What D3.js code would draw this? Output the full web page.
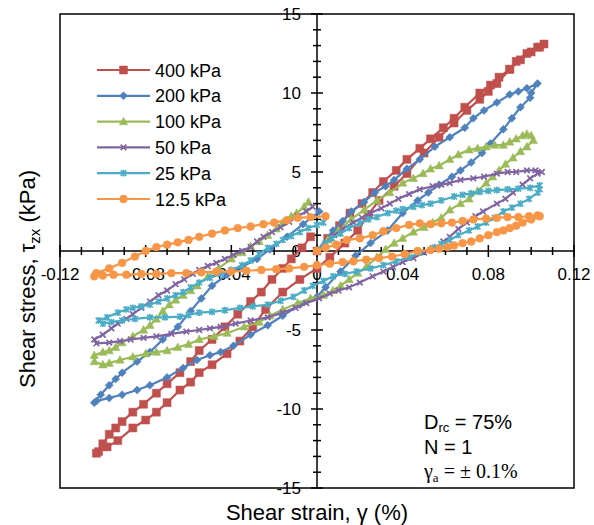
<!DOCTYPE html>
<html>
<head>
<meta charset="UTF-8">
<script src="https://d3js.org/d3.v7.min.js"></script>
<style>
  body { margin: 0; background: #fff; }
  text { font-family: "Liberation Sans", Arial, sans-serif; fill: #000; }
</style>
</head>
<body>
<svg id="canvas"></svg>
<script>

// ---- data: [shear strain (%), shear stress (kPa)] ----
s400 = [
  [0,0],[0.005,0.8],[0.0105,1.6],[0.0154,2.4],[0.021,3.0],[0.026,3.7],[0.031,4.4],[0.037,5.1],[0.042,5.8],[0.048,6.5],
  [0.053,7.1],[0.059,7.8],[0.064,8.4],[0.069,9.1],[0.076,10.0],[0.081,10.5],[0.085,11.0],[0.09,11.5],[0.093,12.0],[0.098,12.5],
  [0.103,12.9],[0.106,13.1],
  [0.104,12.9],[0.1,12.6],[0.095,12.1],[0.09,11.5],[0.084,10.6],[0.08,10.1],[0.076,9.6],[0.07,8.9],[0.064,8.1],[0.057,7.2],
  [0.05,6.2],[0.042,4.9],[0.036,4.1],[0.029,3.2],[0.024,2.3],[0.019,1.3],[0.013,0.5],[0.006,-0.4],[0,-1.1],[-0.008,-1.8],
  [-0.016,-2.6],[-0.024,-3.7],[-0.03,-4.8],[-0.036,-5.7],[-0.042,-6.5],[-0.049,-7.2],[-0.055,-7.7],[-0.059,-8.3],[-0.064,-8.8],[-0.07,-9.6],
  [-0.075,-10.2],[-0.08,-10.7],[-0.086,-11.2],[-0.093,-12.0],[-0.098,-12.4],[-0.102,-12.7],
  [-0.103,-12.8],[-0.1,-12.2],[-0.097,-11.6],[-0.094,-11.2],[-0.091,-10.8],[-0.086,-10.2],[-0.081,-9.7],[-0.075,-9.0],[-0.07,-8.4],[-0.064,-7.7],
  [-0.059,-7.0],[-0.055,-6.3],[-0.049,-5.6],[-0.043,-4.8],[-0.037,-4.0],[-0.031,-3.2],[-0.026,-2.6],[-0.021,-1.8],[-0.016,-1.1],[-0.012,-0.5],
  [-0.007,0.2],[-0.003,0.9]
];
s200 = [
  [0,0],[0.0075,1.3],[0.012,1.9],[0.016,2.5],[0.022,3.1],[0.027,3.7],[0.032,4.1],[0.036,4.5],[0.042,5.2],[0.048,5.8],
  [0.055,6.6],[0.062,7.2],[0.069,7.8],[0.073,8.4],[0.078,8.9],[0.084,9.4],[0.09,9.9],[0.094,10.1],[0.098,10.3],[0.103,10.6],
  [0.1,10.0],[0.0995,9.7],[0.095,9.1],[0.091,8.4],[0.087,7.7],[0.081,6.8],[0.077,6.2],[0.072,5.6],[0.067,5.1],[0.063,4.7],
  [0.057,4.2],[0.052,3.7],[0.047,3.2],[0.04,2.4],[0.033,1.3],[0.025,0.5],[0.018,-0.3],[0.011,-1.3],[0.004,-2.3],[0,-2.9],
  [-0.008,-3.4],[-0.016,-4.1],[-0.023,-4.7],[-0.031,-5.3],[-0.039,-6.0],[-0.045,-6.4],[-0.05,-6.6],[-0.056,-6.9],[-0.0625,-7.4],[-0.07,-8.0],
  [-0.078,-8.5],[-0.084,-8.8],[-0.091,-9.1],[-0.097,-9.3],[-0.103,-9.5],
  [-0.104,-9.6],[-0.101,-9.1],[-0.097,-8.5],[-0.094,-8.1],[-0.091,-7.7],[-0.084,-7.0],[-0.078,-6.4],[-0.072,-5.6],[-0.065,-4.8],[-0.059,-3.8],
  [-0.054,-3.0],[-0.049,-2.2],[-0.042,-1.5],[-0.035,-1.0],[-0.028,-0.5],[-0.022,0.1],[-0.014,0.9],[-0.0065,1.7],[0.001,2.5]
];
s100 = [
  [0,0],[0.005,0.7],[0.01,1.3],[0.016,2.0],[0.022,2.6],[0.028,3.2],[0.034,3.7],[0.04,4.3],[0.045,4.6],[0.0495,4.9],
  [0.053,5.2],[0.057,5.4],[0.062,5.8],[0.066,6.1],[0.071,6.4],[0.075,6.5],[0.079,6.6],[0.083,6.7],[0.087,6.7],[0.09,6.9],
  [0.093,7.1],[0.096,7.3],[0.098,7.4],[0.1,7.3],
  [0.101,7.0],[0.098,6.6],[0.095,6.3],[0.0915,5.9],[0.088,5.5],[0.085,5.1],[0.082,4.7],[0.079,4.3],[0.075,3.8],[0.071,3.3],
  [0.067,3.0],[0.062,2.6],[0.058,2.1],[0.054,1.8],[0.05,1.5],[0.045,1.2],[0.04,0.8],[0.036,0.5],[0.032,0.1],[0.028,-0.4],
  [0.023,-1.0],[0.019,-1.4],[0.015,-1.8],[0.011,-2.2],[0.0075,-2.5],[0.003,-2.8],[-0.003,-3.0],[-0.009,-3.3],[-0.016,-3.7],[-0.022,-4.1],
  [-0.027,-4.5],[-0.034,-4.8],[-0.042,-5.2],[-0.048,-5.4],[-0.055,-5.6],[-0.06,-5.9],[-0.065,-6.1],[-0.07,-6.3],[-0.075,-6.4],[-0.08,-6.5],
  [-0.086,-6.7],[-0.092,-6.9],[-0.097,-7.1],[-0.1,-7.2],[-0.104,-7.0],
  [-0.104,-6.6],[-0.1,-6.4],[-0.097,-6.3],[-0.094,-6.1],[-0.091,-5.8],[-0.086,-5.4],[-0.081,-5.0],[-0.078,-4.7],[-0.075,-4.3],[-0.072,-3.8],
  [-0.069,-3.4],[-0.066,-3.1],[-0.0625,-2.8],[-0.059,-2.5],[-0.056,-2.2],[-0.051,-1.6],[-0.046,-1.1],[-0.04,-0.5],[-0.035,-0.1],[-0.031,0.3],
  [-0.027,0.6],[-0.023,1.0],[-0.019,1.4],[-0.016,1.8],[-0.012,2.2],[-0.0095,2.4],[-0.006,2.8],[-0.004,3.1]
];
s50 = [
  [0,0],[0.004,0.5],[0.008,1.0],[0.012,1.4],[0.017,1.8],[0.021,2.1],[0.025,2.4],[0.03,2.7],[0.034,3.0],[0.038,3.3],
  [0.043,3.6],[0.048,3.9],[0.054,4.1],[0.058,4.2],[0.062,4.3],[0.067,4.5],[0.073,4.6],[0.078,4.7],[0.084,4.9],[0.089,5.0],
  [0.093,5.0],[0.098,5.1],[0.102,5.1],[0.105,5.0],
  [0.103,4.9],[0.0995,4.6],[0.096,4.2],[0.0915,3.7],[0.088,3.3],[0.084,3.0],[0.0775,2.5],[0.074,2.2],[0.07,1.8],[0.066,1.4],
  [0.062,0.9],[0.059,0.6],[0.056,0.25],[0.05,-0.1],[0.045,-0.45],[0.04,-0.7],[0.0355,-1.0],[0.031,-1.3],[0.026,-1.6],[0.02,-2.0],
  [0.015,-2.3],[0.01,-2.5],[0.006,-2.7],[0.001,-3.0],[-0.005,-3.3],[-0.01,-3.6],[-0.016,-3.9],[-0.023,-4.2],[-0.031,-4.4],[-0.038,-4.6],
  [-0.045,-4.8],[-0.05,-4.9],[-0.055,-5.0],[-0.061,-5.1],[-0.068,-5.25],[-0.075,-5.4],[-0.081,-5.5],[-0.087,-5.6],[-0.092,-5.7],[-0.097,-5.8],
  [-0.103,-5.85],
  [-0.104,-5.6],[-0.1,-5.3],[-0.096,-4.9],[-0.093,-4.6],[-0.089,-4.3],[-0.086,-4.0],[-0.082,-3.6],[-0.078,-3.2],[-0.074,-2.8],[-0.07,-2.5],
  [-0.066,-2.1],[-0.062,-1.8],[-0.058,-1.45],[-0.055,-1.2],[-0.051,-0.95],[-0.047,-0.75],[-0.043,-0.5],[-0.039,-0.25],[-0.035,0.0],[-0.031,0.25],
  [-0.028,0.6],[-0.025,0.9],[-0.021,1.2],[-0.017,1.5],[-0.013,1.85],[-0.009,2.2],[-0.005,2.5],[-0.002,2.8]
];
s25 = [
  [0,0],[0.004,0.5],[0.007,0.8],[0.011,1.1],[0.015,1.45],[0.02,1.75],[0.024,2.0],[0.028,2.15],[0.033,2.4],[0.037,2.55],
  [0.04,2.65],[0.045,2.8],[0.049,2.9],[0.053,3.0],[0.058,3.2],[0.064,3.45],[0.068,3.55],[0.072,3.65],[0.076,3.75],[0.08,3.8],
  [0.084,3.85],[0.089,3.9],[0.094,3.95],[0.0995,4.0],[0.104,4.15],
  [0.104,3.9],[0.103,3.7],[0.099,3.3],[0.095,3.0],[0.091,2.75],[0.087,2.5],[0.083,2.1],[0.079,1.8],[0.075,1.55],[0.071,1.3],
  [0.066,1.0],[0.062,0.7],[0.058,0.45],[0.054,0.2],[0.048,-0.1],[0.043,-0.4],[0.037,-0.65],[0.031,-0.9],[0.025,-1.1],[0.0185,-1.3],
  [0.013,-1.45],[0.0075,-1.6],[0.003,-1.9],[-0.002,-2.2],[-0.006,-2.5],[-0.011,-2.9],[-0.017,-3.15],[-0.023,-3.4],[-0.03,-3.5],[-0.036,-3.6],
  [-0.043,-3.75],[-0.049,-3.85],[-0.055,-3.9],[-0.06,-4.05],[-0.064,-4.15],[-0.071,-4.2],[-0.078,-4.2],[-0.085,-4.3],[-0.091,-4.4],[-0.096,-4.5],
  [-0.1,-4.6],
  [-0.102,-4.4],[-0.098,-4.2],[-0.093,-3.9],[-0.089,-3.7],[-0.086,-3.6],[-0.082,-3.5],[-0.078,-3.4],[-0.074,-3.2],[-0.07,-3.0],[-0.066,-2.8],
  [-0.0625,-2.6],[-0.059,-2.3],[-0.055,-2.0],[-0.05,-1.7],[-0.045,-1.45],[-0.04,-1.2],[-0.035,-0.9],[-0.031,-0.6],[-0.027,-0.2],[-0.023,0.2],
  [-0.019,0.45],[-0.016,0.7],[-0.012,0.95],[-0.008,1.2],[-0.004,1.45],[0,1.65],[0.003,1.8]
];
s12 = [
  [0,0],[0.004,0.2],[0.009,0.4],[0.014,0.7],[0.02,0.8],[0.026,1.0],[0.031,1.25],[0.037,1.45],[0.043,1.65],[0.048,1.75],
  [0.053,1.7],[0.058,1.75],[0.063,1.8],[0.068,1.9],[0.073,2.0],[0.079,2.05],[0.084,2.1],[0.089,2.15],[0.094,2.15],[0.099,2.2],
  [0.103,2.25],
  [0.104,2.2],[0.1,2.0],[0.096,1.8],[0.093,1.6],[0.09,1.45],[0.087,1.3],[0.084,1.2],[0.08,1.0],[0.076,0.8],[0.072,0.6],
  [0.068,0.5],[0.064,0.35],[0.061,0.25],[0.057,0.15],[0.053,0.06],[0.047,0.0],[0.041,-0.2],[0.035,-0.35],[0.029,-0.45],[0.023,-0.55],
  [0.017,-0.65],[0.012,-0.7],[0.006,-0.8],[0,-0.9],[-0.006,-1.0],[-0.013,-1.1],[-0.019,-1.15],[-0.026,-1.2],[-0.033,-1.25],[-0.04,-1.3],
  [-0.047,-1.3],[-0.054,-1.35],[-0.061,-1.4],[-0.068,-1.4],[-0.075,-1.45],[-0.082,-1.45],[-0.089,-1.5],[-0.095,-1.5],[-0.1,-1.55],[-0.104,-1.6],
  [-0.103,-1.4],[-0.097,-1.1],[-0.091,-0.75],[-0.085,-0.35],[-0.08,0.0],[-0.075,0.25],[-0.07,0.4],[-0.065,0.55],[-0.06,0.7],[-0.055,0.9],
  [-0.049,1.1],[-0.043,1.3],[-0.037,1.45],[-0.031,1.55],[-0.025,1.7],[-0.02,1.8],[-0.014,1.95],[-0.009,2.1],[-0.003,2.15],[0.004,2.2]
];

seriesNames = ["400 kPa", "200 kPa", "100 kPa", "50 kPa", "25 kPa", "12.5 kPa"];
seriesData = [s400, s200, s100, s50, s25, s12];
seriesColors = ["#C0504D", "#4F81BD", "#9BBB59", "#8064A2", "#4BACC6", "#F79646"];
seriesMarkers = ["square", "diamond", "triangle", "x", "star", "circle"];

xTicks = [-0.12, -0.08, -0.04, 0, 0.04, 0.08, 0.12];
xTickLabels = ["-0.12", "-0.08", "-0.04", "0", "0.04", "0.08", "0.12"];
yTicks = [-15, -10, -5, 0, 5, 10, 15];
yTickLabels = ["-15", "-10", "-5", "0", "5", "10", "15"];

width = 594;
height = 525;
plot = {left: 60, right: 574, top: 14, bottom: 488};

svg = d3.select("#canvas")
    .attr("width", width)
    .attr("height", height);

x = d3.scaleLinear().domain([-0.12, 0.12]).range([plot.left, plot.right]);
y = d3.scaleLinear().domain([-15, 15]).range([plot.bottom, plot.top]);

// plot frame
svg.append("rect")
    .attr("x", plot.left).attr("y", plot.top)
    .attr("width", plot.right - plot.left).attr("height", plot.bottom - plot.top)
    .attr("fill", "none").attr("stroke", "#000").attr("stroke-width", 1.5);

// axes through the origin
svg.append("line")
    .attr("x1", plot.left).attr("x2", plot.right)
    .attr("y1", y(0)).attr("y2", y(0))
    .attr("stroke", "#000").attr("stroke-width", 1.5);
svg.append("line")
    .attr("x1", x(0)).attr("x2", x(0))
    .attr("y1", plot.top).attr("y2", plot.bottom)
    .attr("stroke", "#000").attr("stroke-width", 1.5);

// cross ticks (minor every 0.01 / 1 kPa, major every 0.04 / 5 kPa)
xMinor = d3.range(-12, 13).map(i => i / 100);
yMinor = d3.range(-15, 16);

svg.append("g").selectAll("line")
    .data(xMinor)
    .enter().append("line")
        .attr("x1", d => x(d)).attr("x2", d => x(d))
        .attr("y1", d => y(0) - (Math.abs(Math.round(d * 100)) % 4 == 0 ? 6 : 4))
        .attr("y2", d => y(0) + (Math.abs(Math.round(d * 100)) % 4 == 0 ? 6 : 4))
        .attr("stroke", "#000").attr("stroke-width", 1.5);

svg.append("g").selectAll("line")
    .data(yMinor)
    .enter().append("line")
        .attr("y1", d => y(d)).attr("y2", d => y(d))
        .attr("x1", d => x(0) - (d % 5 == 0 ? 6 : 4))
        .attr("x2", d => x(0) + (d % 5 == 0 ? 6 : 4))
        .attr("stroke", "#000").attr("stroke-width", 1.5);

// tick labels
svg.append("g").selectAll("text")
    .data(xTicks)
    .enter().append("text")
        .attr("x", d => x(d))
        .attr("y", y(0) + 29)
        .attr("text-anchor", "middle")
        .attr("font-size", 17)
        .text((d, i) => xTickLabels[i]);

svg.append("g").selectAll("text")
    .data(yTicks)
    .enter().append("text")
        .attr("x", x(0) - 16)
        .attr("y", d => y(d) + 6)
        .attr("text-anchor", "end")
        .attr("font-size", 17)
        .text((d, i) => yTickLabels[i]);

// markers
function markerPath(type) {
    if (type == "square") return "M-4,-4H4V4H-4Z";
    if (type == "diamond") return "M0,-4L4,0L0,4L-4,0Z";
    if (type == "triangle") return "M0,-4.4L4.2,3.2L-4.2,3.2Z";
    if (type == "circle") return "M3.9,0A3.9,3.9 0 1,1 -3.9,0A3.9,3.9 0 1,1 3.9,0Z";
    if (type == "x") return "M-2.8,-2.8L2.8,2.8M-2.8,2.8L2.8,-2.8";
    if (type == "star") return "M-2.8,-2.8L2.8,2.8M-2.8,2.8L2.8,-2.8M0,-3.4L0,3.4";
}

line = d3.line().x(d => x(d[0])).y(d => y(d[1]));

seriesData.forEach((data, k) => {
    g = svg.append("g");
    g.append("path")
        .attr("d", line(data))
        .attr("fill", "none")
        .attr("stroke", seriesColors[k])
        .attr("stroke-width", 2.2)
        .attr("stroke-linejoin", "round");
    stroked = seriesMarkers[k] == "x" || seriesMarkers[k] == "star";
    g.selectAll(".m")
        .data(data)
        .enter().append("path")
            .attr("transform", d => "translate(" + x(d[0]) + "," + y(d[1]) + ")")
            .attr("d", markerPath(seriesMarkers[k]))
            .attr("fill", stroked ? "none" : seriesColors[k])
            .attr("stroke", seriesColors[k])
            .attr("stroke-width", stroked ? 1.7 : 0.5);
});

// legend
legend = svg.append("g");
seriesNames.forEach((name, k) => {
    ly = 70 + k * 25.8;
    legend.append("line")
        .attr("x1", 97).attr("x2", 150).attr("y1", ly).attr("y2", ly)
        .attr("stroke", seriesColors[k]).attr("stroke-width", 2.2);
    stroked = seriesMarkers[k] == "x" || seriesMarkers[k] == "star";
    legend.append("path")
        .attr("transform", "translate(123.5," + ly + ")")
        .attr("d", markerPath(seriesMarkers[k]))
        .attr("fill", stroked ? "none" : seriesColors[k])
        .attr("stroke", seriesColors[k])
        .attr("stroke-width", stroked ? 1.7 : 0.5);
    legend.append("text")
        .attr("x", 155).attr("y", ly + 6.5)
        .attr("font-size", 18)
        .text(name);
});

// axis titles
svg.append("text")
    .attr("x", 317).attr("y", 520)
    .attr("text-anchor", "middle")
    .attr("font-size", 22)
    .text("Shear strain, γ (%)");

yt = svg.append("text")
    .attr("transform", "translate(35,279) rotate(-90)")
    .attr("text-anchor", "middle")
    .attr("font-size", 22);
yt.append("tspan").text("Shear stress, τ");
yt.append("tspan").attr("font-size", 15).attr("dy", 5).text("zx");
yt.append("tspan").attr("dy", -5).text("  (kPa)");

// annotation
a1 = svg.append("text").attr("x", 424).attr("y", 429).attr("font-size", 20);
a1.append("tspan").text("D");
a1.append("tspan").attr("font-size", 13).attr("dy", 3).text("rc");
a1.append("tspan").attr("dy", -3).text(" = 75%");

svg.append("text").attr("x", 424).attr("y", 454).attr("font-size", 20).text("N = 1");

a3 = svg.append("text").attr("x", 424).attr("y", 478).attr("font-size", 20)
    .style("font-family", "'Liberation Serif', 'Times New Roman', serif");
a3.append("tspan").text("γ");
a3.append("tspan").attr("font-size", 13).attr("dy", 4).text("a");
a3.append("tspan").attr("dy", -4).text(" = ± 0.1%");

</script>
</body>
</html>
